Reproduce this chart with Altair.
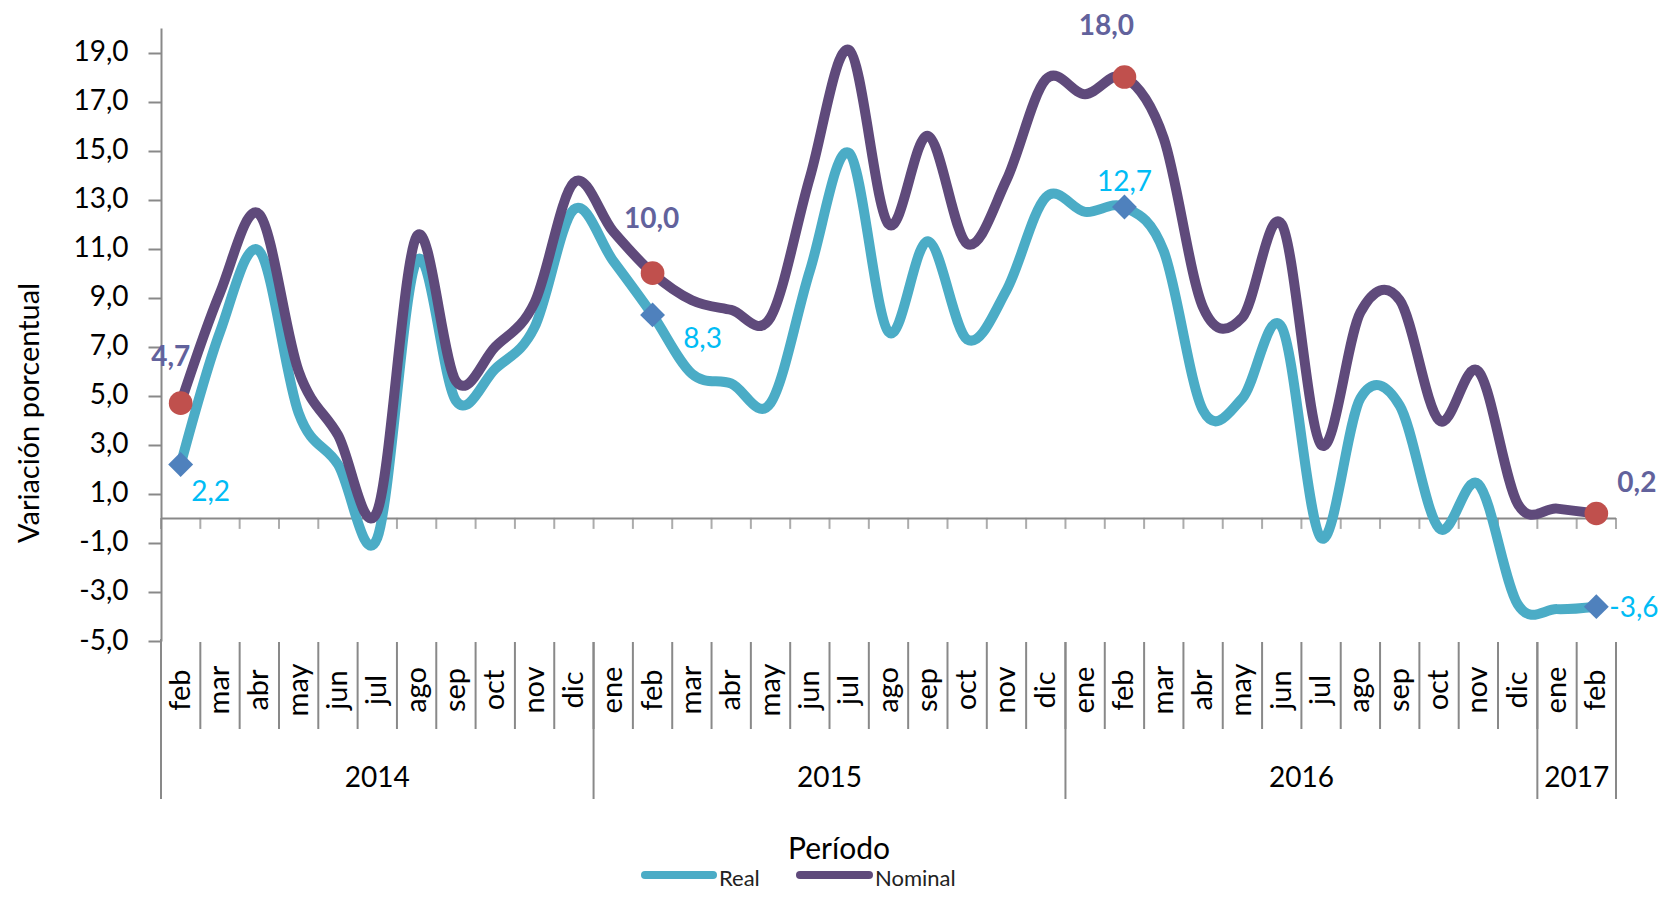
import altair as alt
import pandas as pd

# ---------------- data ----------------
months = ["feb", "mar", "abr", "may", "jun", "jul", "ago", "sep", "oct", "nov", "dic",
          "ene", "feb", "mar", "abr", "may", "jun", "jul", "ago", "sep", "oct", "nov", "dic",
          "ene", "feb", "mar", "abr", "may", "jun", "jul", "ago", "sep", "oct", "nov", "dic",
          "ene", "feb"]
years = ["2014", "2015", "2016", "2017"]
year_first = [0, 11, 23, 35]
year_last = [10, 22, 34, 36]

real = [2.2, 7.6, 10.9, 4.3, 2.2, -0.8, 10.5, 4.8, 6.1, 7.8, 12.6,
        10.5, 8.3, 5.9, 5.5, 4.7, 10.1, 14.9, 7.6, 11.3, 7.3, 9.3, 13.1,
        12.5, 12.7, 10.9, 4.4, 4.9, 7.8, -0.8, 4.9, 4.6, -0.4, 1.4, -3.5,
        -3.7, -3.6]
nominal = [4.7, 9.2, 12.4, 6.0, 3.4, 0.3, 11.5, 5.6, 7.0, 8.8, 13.7,
           11.7, 10.0, 8.9, 8.5, 8.2, 13.9, 19.1, 12.0, 15.6, 11.2, 13.8, 17.9,
           17.3, 18.0, 15.5, 8.6, 8.2, 12.0, 3.0, 8.4, 8.9, 4.0, 6.0, 0.6,
           0.4, 0.2]
series_names = ["Real", "Nominal"]
labelled = [0, 12, 24, 36]
y_ticks = list(range(-5, 20, 2))

# ---------------- style ----------------
FONT = "Lato"
TEAL = "#4BACC6"
PURPLE = "#5F4A7B"
RED = "#C0504D"
BLUE = "#4F81BD"
GREY = "#898989"
NOM_LAB = "#62629C"
REAL_LAB = "#00BCF5"
W, H = 1455, 613

def fmt(v):
    return ("-" if v < 0 else "") + f"{abs(v):.1f}".replace(".", ",")

n = len(months)
df = pd.DataFrame({"idx": list(range(n)), "month": months, "real": real, "nominal": nominal})
df["real_lab"] = [fmt(v) for v in real]
df["nom_lab"] = [fmt(v) for v in nominal]

bounds = pd.DataFrame({"b": [i - 0.5 for i in range(n + 1)]})
ybounds = pd.DataFrame({"b": [-0.5] + [l + 0.5 for l in year_last]})
ydf = pd.DataFrame({"year": years, "c": [(f + l) / 2 for f, l in zip(year_first, year_last)]})
zero = pd.DataFrame({"x1": [-0.5], "x2": [n - 0.5], "y": [0]})

xscale = alt.Scale(domain=[-0.5, n - 0.5], nice=False, zero=False)
yscale = alt.Scale(domain=[-5, 20], nice=False, zero=False)
yaxis = alt.Axis(values=y_ticks,
                 labelExpr="(datum.value < 0 ? '-' : '') + replace(format(abs(datum.value), '.1f'), '.', ',')",
                 title=None, grid=False, tickSize=13, tickWidth=2, tickColor=GREY,
                 domainColor=GREY, domainWidth=2, labelFontSize=28, labelFont=FONT,
                 labelColor="#000000", labelPadding=20)

def X(f):
    return alt.X(f, type="quantitative", scale=xscale, axis=None)

def Y(f):
    return alt.Y(f, type="quantitative", scale=yscale, axis=yaxis)

base = alt.Chart(df)

zero_line = alt.Chart(zero).mark_rule(color=GREY, strokeWidth=2).encode(
    x=X("x1"), x2="x2", y=Y("y"))
zero_ticks = alt.Chart(bounds).mark_tick(orient="vertical", size=11, thickness=2,
                                         color=GREY, yOffset=5).encode(
    x=X("b"), y=alt.Y(datum=0, type="quantitative", scale=yscale, axis=yaxis))

line_real = base.mark_line(color=TEAL, strokeWidth=10, interpolate="cardinal",
                           strokeCap="round").encode(x=X("idx"), y=Y("real"))
line_nom = base.mark_line(color=PURPLE, strokeWidth=10, interpolate="cardinal",
                          strokeCap="round").encode(x=X("idx"), y=Y("nominal"))

pts = base.transform_filter(alt.FieldOneOfPredicate(field="idx", oneOf=labelled))
pts_real = pts.mark_point(shape="diamond", filled=True, size=620, color=BLUE,
                          opacity=1).encode(x=X("idx"), y=Y("real"))
pts_nom = pts.mark_point(shape="circle", filled=True, size=560, color=RED,
                         opacity=1).encode(x=X("idx"), y=Y("nominal"))

# (dx, dy, align) for each labelled point
nom_off = [(-10, -45, "center"), (-1, -53, "center"), (-18, -50, "center"), (21, -29, "left")]
real_off = [(30, 29, "center"), (50, 25, "center"), (0, -24, "center"), (13, 2, "left")]
label_layers = []
for i, (dx, dy, al) in zip(labelled, nom_off):
    label_layers.append(
        base.transform_filter(alt.datum.idx == i).mark_text(
            dx=dx, dy=dy, align=al, font=FONT, fontSize=28, fontWeight="bold", color=NOM_LAB
        ).encode(x=X("idx"), y=Y("nominal"), text="nom_lab:N"))
for i, (dx, dy, al) in zip(labelled, real_off):
    label_layers.append(
        base.transform_filter(alt.datum.idx == i).mark_text(
            dx=dx, dy=dy, align=al, font=FONT, fontSize=28, color=REAL_LAB
        ).encode(x=X("idx"), y=Y("real"), text="real_lab:N"))

# category axis below the plot
month_sep = alt.Chart(bounds).mark_rule(color=GREY, strokeWidth=2).encode(
    x=X("b"), y=alt.value(H + 1), y2=alt.value(H + 88))
year_sep = alt.Chart(ybounds).mark_rule(color=GREY, strokeWidth=2).encode(
    x=X("b"), y=alt.value(H + 1), y2=alt.value(H + 158))
axis_ext = alt.Chart(ybounds).transform_filter(alt.datum.b < 0).mark_rule(
    color=GREY, strokeWidth=2).encode(x=X("b"), y=alt.value(H - 2), y2=alt.value(H + 2))
month_txt = base.mark_text(angle=270, align="center", baseline="middle", font=FONT,
                           fontSize=29, color="#000000").encode(
    x=X("idx"), y=alt.value(H + 49), text="month:N")
year_txt = alt.Chart(ydf).mark_text(align="center", baseline="middle", font=FONT,
                                    fontSize=28, color="#000000").encode(
    x=X("c"), y=alt.value(H + 138), text="year:N")

# titles
ytitle = alt.Chart(pd.DataFrame({"t": ["Variación porcentual"]})).mark_text(
    angle=270, align="center", baseline="middle", font=FONT, fontSize=29, color="#000000"
).encode(x=alt.value(-131), y=alt.value(385), text="t:N")
xtitle = alt.Chart(pd.DataFrame({"t": ["Período"]})).mark_text(
    align="center", baseline="middle", font=FONT, fontSize=30, color="#000000"
).encode(x=alt.value(678), y=alt.value(822), text="t:N")

# legend
leg_y = 847
leg = pd.DataFrame({"name": series_names})
leg_real_line = alt.Chart(leg).transform_filter(alt.datum.name == "Real").mark_rule(
    color=TEAL, strokeWidth=8, strokeCap="round").encode(
    x=alt.value(484), x2=alt.value(552), y=alt.value(leg_y))
leg_nom_line = alt.Chart(leg).transform_filter(alt.datum.name == "Nominal").mark_rule(
    color=PURPLE, strokeWidth=8, strokeCap="round").encode(
    x=alt.value(639), x2=alt.value(708), y=alt.value(leg_y))
leg_real_txt = alt.Chart(leg).transform_filter(alt.datum.name == "Real").mark_text(
    align="left", baseline="middle", font=FONT, fontSize=22, color="#222222").encode(
    x=alt.value(558), y=alt.value(leg_y + 4), text="name:N")
leg_nom_txt = alt.Chart(leg).transform_filter(alt.datum.name == "Nominal").mark_text(
    align="left", baseline="middle", font=FONT, fontSize=22, color="#222222").encode(
    x=alt.value(714), y=alt.value(leg_y + 4), text="name:N")

chart = alt.layer(
    zero_line, zero_ticks, month_sep, year_sep, axis_ext, month_txt, year_txt,
    line_real, line_nom, pts_real, pts_nom, *label_layers,
    ytitle, xtitle, leg_real_line, leg_nom_line, leg_real_txt, leg_nom_txt
).properties(
    width=W, height=H,
    autosize=alt.AutoSizeParams(type="none"),
    padding={"left": 153, "top": 20, "right": 43, "bottom": 253},
    background="white"
).configure_view(stroke=None)

chart.save("out.html", embed_options={"renderer": "svg", "actions": False})
